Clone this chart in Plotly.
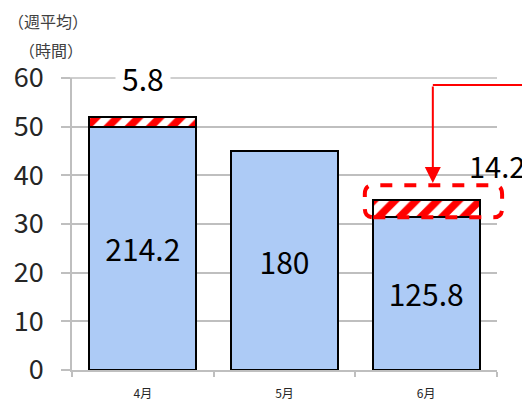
import plotly.graph_objects as go

months = ["4月", "5月", "6月"]
base_hours = [50, 45, 31.5]
extra_hours = [2, None, 3.5]
base_labels = ["214.2", "180", "125.8"]
extra_label_apr = "5.8"
extra_label_jun = "14.2"
y_ticks = [0, 10, 20, 30, 40, 50, 60]

FONT = "Noto Sans CJK JP"

fig = go.Figure()
fig.add_trace(go.Bar(
    x=months, y=base_hours, text=base_labels,
    textposition="inside", insidetextanchor="middle",
    textfont=dict(size=30, color="black", family=FONT),
    marker=dict(color="#ADCBF6", line=dict(color="black", width=2)),
    hoverinfo="skip",
))
fig.add_trace(go.Bar(
    x=months, y=extra_hours,
    marker=dict(color="white", line=dict(color="black", width=2),
                pattern=dict(shape="/", fgcolor="#FF0000", bgcolor="white", fgopacity=1,
                             size=15, solidity=0.5, fillmode="replace")),
    hoverinfo="skip",
))

# page body has an 8px margin -> figure sized/offset to compensate
fig.update_layout(
    width=522, height=396,
    margin=dict(l=64, r=33, t=70, b=34),
    barmode="stack", bargap=0.245,
    showlegend=False,
    plot_bgcolor="white", paper_bgcolor="white",
    font=dict(family=FONT, color="#262626"),
    uniformtext=dict(mode=False),
)
fig.update_yaxes(
    range=[0, 60], tickvals=y_ticks, showgrid=True, gridcolor="#BFBFBF", gridwidth=1.5,
    zeroline=False, showline=True, linecolor="#BFBFBF", linewidth=1.5,
    ticks="outside", ticklen=9, tickcolor="#BFBFBF", tickwidth=1.5,
    tickfont=dict(size=27, color="#262626", family=FONT), ticklabelstandoff=12,
    automargin=False,
)
fig.update_xaxes(
    showline=True, linecolor="#BFBFBF", linewidth=1.5,
    ticks="outside", ticklen=5, tickcolor="#BFBFBF", tickwidth=1.5,
    tickson="boundaries", ticklabelstandoff=12,
    tickfont=dict(size=12, color="#262626", family=FONT),
    automargin=False,
)

# top gridline (plotly drops gridlines at the range edge)
fig.add_shape(type="line", xref="paper", yref="paper", x0=-0.021, x1=1, y0=1, y1=1,
              line=dict(color="#BFBFBF", width=1.5), layer="below")

# labels
fig.add_annotation(x=0, y=60, xref="x", yref="y", text=extra_label_apr, showarrow=False,
                   bgcolor="white", borderpad=6, font=dict(size=30, color="black", family=FONT))
fig.add_annotation(x=1.0, y=0.702, xref="paper", yref="paper", text=extra_label_jun,
                   showarrow=False, xanchor="center", yanchor="middle",
                   font=dict(size=29, color="black", family=FONT))
fig.add_annotation(x=-0.155, y=1.195, xref="paper", yref="paper", text="（週平均）",
                   showarrow=False, xanchor="left", yanchor="middle",
                   font=dict(size=16, color="#404040", family=FONT))
fig.add_annotation(x=-0.13, y=1.095, xref="paper", yref="paper", text="（時間）",
                   showarrow=False, xanchor="left", yanchor="middle",
                   font=dict(size=16, color="#404040", family=FONT))

# dashed rounded box
x0, x1, y0, y1 = 0.689, 1.012, 0.523, 0.633
r = 0.02
ry = 0.03
path = (f"M {x0+r},{y0} L {x1-r},{y0} Q {x1},{y0} {x1},{y0+ry} L {x1},{y1-ry} "
        f"Q {x1},{y1} {x1-r},{y1} L {x0+r},{y1} Q {x0},{y1} {x0},{y1-ry} "
        f"L {x0},{y0+ry} Q {x0},{y0} {x0+r},{y0} Z")
fig.add_shape(type="path", path=path, xref="paper", yref="paper",
              line=dict(color="red", width=4, dash="dash"))
# arrow
fig.add_shape(type="line", xref="paper", yref="paper", x0=0.849, y0=0.976, x1=1.1, y1=0.976,
              line=dict(color="red", width=2))
fig.add_annotation(x=0.849, y=0.64, xref="paper", yref="paper", ax=0, ay=-98,
                   axref="pixel", ayref="pixel", text="", showarrow=True,
                   arrowhead=2, arrowsize=1.6, arrowwidth=2, arrowcolor="red")

fig.write_html("out.html")
